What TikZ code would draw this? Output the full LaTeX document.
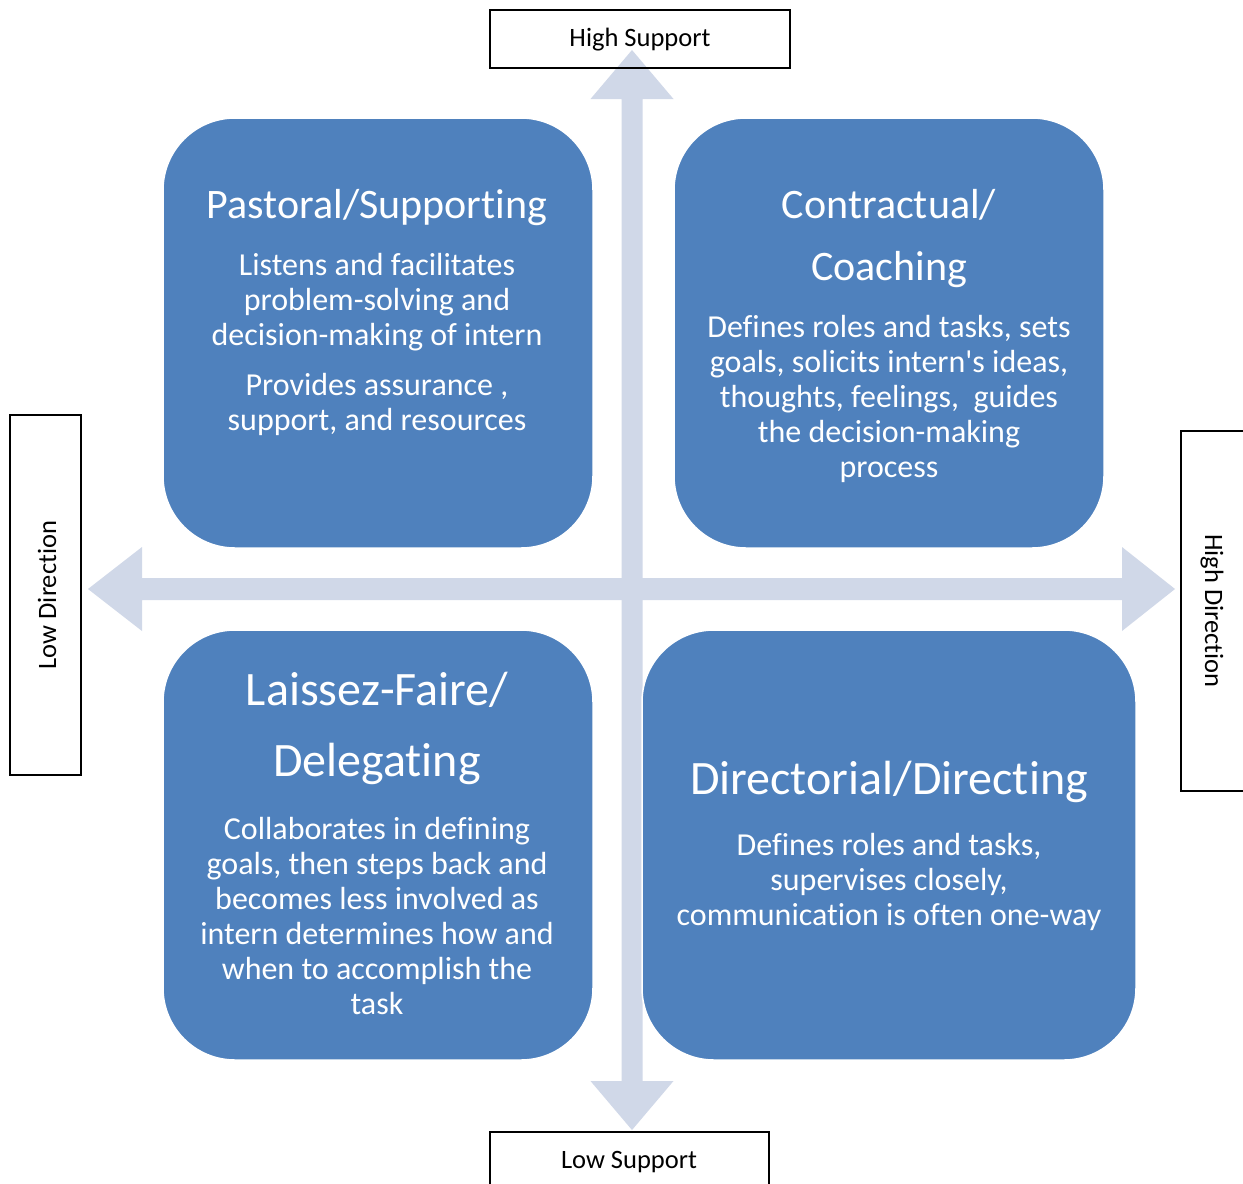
\documentclass[tikz,border=0pt]{standalone}
\usepackage{fontspec}
\setmainfont{Carlito}[Ligatures={TeXOff,CommonOff},RawFeature={-liga;-clig}]
\begin{document}
\begin{tikzpicture}[x=1pt,y=-1pt,
  quad/.style={fill=quadblue, draw=white, line width=1.5pt, rounded corners=72pt},
  axis/.style={fill=axisgrey},
  tag/.style={draw=black, line width=1.5pt},
  title/.style={text=white, align=center, inner sep=0pt, font=\fontsize{42}{50}\selectfont},
  bigtitle/.style={title, font=\fontsize{48}{56}\selectfont},
  body/.style={text=white, align=center, inner sep=0pt, font=\fontsize{32}{35}\selectfont},
  tagtext/.style={text=black, inner sep=0pt, font=\fontsize{26.5}{31}\selectfont}]
\definecolor{quadblue}{HTML}{4F81BD}
\definecolor{axisgrey}{HTML}{D0D8E8}
\useasboundingbox (0,0) rectangle (1243,1184);
\fill[white] (0,0) rectangle (1243,1184);

% axis ends
\coordinate (up) at (632,50);
\coordinate (down) at (632,1130);
\coordinate (left) at (88,589);
\coordinate (right) at (1175,589);

% vertical double arrow (support)
\fill[axis] (up) -- ++(41.5,49) -- ++(-31,0) -- (642.5,1081) -- ++(31,0)
  -- (down) -- ++(-41.5,-49) -- ++(31,0) -- (621.5,99) -- ++(-31,0) -- cycle;
% horizontal double arrow (direction)
\fill[axis] (left) -- ++(54,-42) -- ++(0,31) -- (1122,578) -- ++(0,-31)
  -- (right) -- ++(-53,42) -- ++(0,-31) -- (142,600) -- ++(0,31) -- cycle;

% quadrants
\draw[quad] (163,118) rectangle (593,548);
\draw[quad] (674,118) rectangle (1104,548);
\draw[quad] (163,630) rectangle (593,1060);
\draw[quad] (642,630) rectangle (1136,1060);

% top left
\node[title] (ps) at (377,208) {Pastoral/Supporting};
\node[body] (psa) at (377,302) {Listens and facilitates\\problem-solving and\\decision-making of intern};
\node[body] (psb) at (377,404) {Provides assurance ,\\support, and resources};

% top right
\node[title] (cc1) at (889,205) {Contractual/};
\node[title] (cc2) at (889,270) {Coaching};
\node[body] (cca) at (889,399) {Defines roles and tasks, sets\\goals, solicits intern's ideas,\\thoughts, feelings,\ \ guides\\the decision-making\\process};

% bottom left
\node[bigtitle] (lf1) at (377,690) {Laissez-Faire/};
\node[bigtitle] (lf2) at (377,764) {Delegating};
\node[body] (lfa) at (377,916) {Collaborates in defining\\goals, then steps back and\\becomes less involved as\\intern determines how and\\when to accomplish the\\task};

% bottom right
\node[bigtitle] (dd) at (889,782) {Directorial/Directing};
\node[body] (dda) at (889,882) {Defines roles and tasks,\\supervises closely,\\communication is often one-way};

% axis labels
\draw[tag] (490,10) rectangle (790,68);
\node[tagtext] (hs) at (640,40) {High Support};
\draw[tag] (490,1200) -- (490,1132) -- (769,1132) -- (769,1200);
\node[tagtext] (ls) at (629,1162) {Low Support};
\draw[tag] (10,415) rectangle (81,775);
\node[tagtext, rotate=90] (ld) at (47,595) {Low Direction};
\draw[tag] (1260,431) -- (1181,431) -- (1181,791) -- (1260,791);
\node[tagtext, rotate=-90] (hd) at (1212,611) {High Direction};
\end{tikzpicture}
\end{document}
